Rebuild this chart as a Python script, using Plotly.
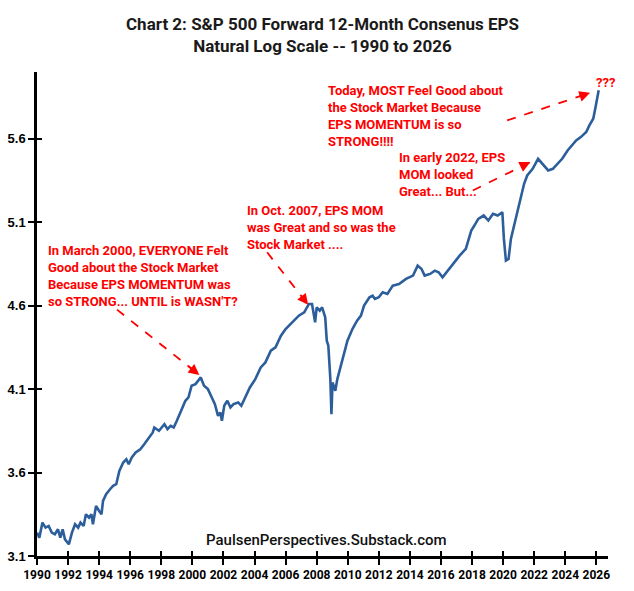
import plotly.graph_objects as go

years = [
    1990.00, 1990.15, 1990.35, 1990.55, 1990.75, 1990.95, 1991.15, 1991.35, 1991.50, 1991.65,
    1991.80, 1992.05, 1992.25, 1992.45, 1992.65, 1992.80, 1993.00, 1993.15, 1993.35, 1993.50,
    1993.60, 1993.80, 1994.00, 1994.15, 1994.25, 1994.45, 1994.70, 1994.90, 1995.10, 1995.30,
    1995.55, 1995.75, 1995.90, 1996.10, 1996.35, 1996.65, 1996.90, 1997.15, 1997.45, 1997.55,
    1997.85, 1998.20, 1998.40, 1998.60, 1998.80, 1999.00, 1999.25, 1999.55, 1999.75, 1999.95,
    2000.20, 2000.54, 2000.75, 2001.00, 2001.25, 2001.45, 2001.65, 2001.80, 2001.90, 2002.05,
    2002.25, 2002.45, 2002.65, 2002.95, 2003.15, 2003.40, 2003.70, 2004.05, 2004.40, 2004.70,
    2005.05, 2005.35, 2005.70, 2006.00, 2006.45, 2006.85, 2007.20, 2007.50, 2007.70, 2007.90,
    2008.00, 2008.20, 2008.35, 2008.55, 2008.65, 2008.75, 2008.88, 2008.95, 2009.02, 2009.20,
    2009.33, 2009.55, 2009.75, 2009.98, 2010.30, 2010.60, 2010.85, 2011.05, 2011.40, 2011.60,
    2011.75, 2012.00, 2012.25, 2012.55, 2012.90, 2013.30, 2013.75, 2014.20, 2014.50, 2014.75,
    2014.95, 2015.30, 2015.60, 2015.85, 2016.10, 2016.45, 2016.75, 2017.20, 2017.60, 2017.95,
    2018.15, 2018.40, 2018.75, 2019.05, 2019.35, 2019.65, 2019.95, 2020.05, 2020.18, 2020.35,
    2020.50, 2020.80, 2021.15, 2021.35, 2021.55, 2021.90, 2022.25, 2022.55, 2022.90, 2023.20,
    2023.50, 2023.80, 2024.15, 2024.45, 2024.70, 2025.00, 2025.35, 2025.55, 2025.80, 2025.95,
    2026.15,
]
ln_eps = [
    3.24, 3.21, 3.30, 3.27, 3.28, 3.24, 3.23, 3.26, 3.21, 3.26,
    3.20, 3.17, 3.24, 3.29, 3.27, 3.30, 3.28, 3.35, 3.33, 3.35,
    3.29, 3.40, 3.37, 3.35, 3.43, 3.47, 3.50, 3.52, 3.53, 3.61,
    3.66, 3.68, 3.65, 3.69, 3.72, 3.74, 3.77, 3.80, 3.84, 3.87,
    3.85, 3.89, 3.86, 3.88, 3.87, 3.91, 3.96, 4.03, 4.05, 4.12,
    4.13, 4.17, 4.12, 4.10, 4.05, 4.01, 3.94, 3.96, 3.91, 4.00,
    4.03, 3.99, 4.01, 4.02, 4.00, 4.05, 4.11, 4.16, 4.23, 4.26,
    4.33, 4.35, 4.42, 4.46, 4.50, 4.54, 4.56, 4.61, 4.61, 4.50,
    4.59, 4.57, 4.59, 4.53, 4.39, 4.36, 4.16, 3.95, 4.14, 4.09,
    4.16, 4.24, 4.32, 4.39, 4.46, 4.51, 4.54, 4.60, 4.65, 4.66,
    4.64, 4.65, 4.68, 4.67, 4.72, 4.73, 4.76, 4.78, 4.84, 4.82,
    4.78, 4.79, 4.81, 4.80, 4.77, 4.81, 4.85, 4.90, 4.94, 5.05,
    5.08, 5.12, 5.14, 5.11, 5.15, 5.14, 5.16, 5.00, 4.87, 4.88,
    5.00, 5.12, 5.26, 5.33, 5.38, 5.42, 5.48, 5.45, 5.41, 5.42,
    5.45, 5.48, 5.53, 5.56, 5.59, 5.61, 5.64, 5.68, 5.72, 5.79,
    5.89,
]
x_ticks = list(range(1990, 2027, 2))
y_ticks = [3.1, 3.6, 4.1, 4.6, 5.1, 5.6]

X_RANGE = [1990, 2026.75]
Y_RANGE = [3.1, 6.0]
RED = "#FF0000"
FONT = "Roboto, sans-serif"

fig = go.Figure()
fig.add_trace(go.Scatter(x=years, y=ln_eps, mode="lines",
                         line=dict(color="#2C5E9C", width=2.6), showlegend=False,
                         hoverinfo="skip"))
# invisible trace so the overlay axes (inside tick marks) are drawn
fig.add_trace(go.Scatter(x=[years[0]], y=[ln_eps[0]], xaxis="x2", yaxis="y2", mode="lines",
                         line=dict(width=0), showlegend=False, hoverinfo="skip"))

# annotation texts: (text, x, y) in data coords, top-left anchored
notes = [
    ("In March 2000, EVERYONE Felt<br>Good about the Stock Market<br>Because EPS MOMENTUM was<br>so STRONG... UNTIL is WASN'T?", 1990.6, 4.99),
    ("In Oct. 2007, EPS MOM<br>was Great and so was the<br>Stock Market ....", 2003.4, 5.225),
    ("Today, MOST Feel Good about<br>the Stock Market Because<br>EPS MOMENTUM is so<br>STRONG!!!!", 2008.6, 5.946),
    ("In early 2022, EPS<br>MOM looked<br>Great... But...", 2013.2, 5.545),
]
for t, x, y in notes:
    fig.add_annotation(text=t, x=x, y=y, xref="x", yref="y", xanchor="left", yanchor="top",
                       align="left", showarrow=False,
                       font=dict(family=FONT, size=13, color=RED, weight="bold"))

fig.add_annotation(text="???", x=2026.6, y=5.94, xref="x", yref="y", showarrow=False,
                   xanchor="center", yanchor="middle",
                   font=dict(family=FONT, size=13, color=RED, weight="bold"))

# dashed arrows: (x0, y0) -> (x1, y1)
arrows = [
    (1995.15, 4.576, 2000.45, 4.185),
    (2004.81, 4.92, 2007.45, 4.605),
    (2020.26, 5.71, 2025.60, 5.875),
    (2018.05, 5.29, 2021.75, 5.46),
]
for x0, y0, x1, y1 in arrows:
    fig.add_shape(type="line", x0=x0, y0=y0, x1=x1, y1=y1, xref="x", yref="y",
                  line=dict(color=RED, width=1.8, dash="dash"))
    fig.add_annotation(x=x1, y=y1, ax=x0 + (x1 - x0) * 0.85, ay=y0 + (y1 - y0) * 0.85,
                       xref="x", yref="y", axref="x", ayref="y", text="",
                       showarrow=True, arrowhead=2, arrowsize=1.2, arrowwidth=1.8,
                       arrowcolor=RED)

fig.add_annotation(text="PaulsenPerspectives.Substack.com", x=2008.6, y=3.196, xref="x", yref="y",
                   showarrow=False, xanchor="center", yanchor="middle",
                   font=dict(family="Roboto, sans-serif", size=15, color="#111111", weight=500))

# title as paper annotation (plot area: top at 72 px, height 484 px)
fig.add_annotation(text="Chart 2: S&P 500 Forward 12-Month Consenus EPS<br>Natural Log Scale -- 1990 to 2026",
                   x=0.5, y=1 + 60 / 484, xref="paper", yref="paper", xanchor="center", yanchor="top",
                   showarrow=False, align="center",
                   font=dict(family=FONT, size=17, color="#1A1A1A", weight="bold"))

fig.update_layout(
    width=634, height=591,
    paper_bgcolor="white", plot_bgcolor="white",
    margin=dict(l=37, r=26, t=72, b=35, autoexpand=False),
    xaxis=dict(range=X_RANGE, tickvals=x_ticks, ticktext=[str(v) for v in x_ticks],
               tickangle=0, automargin=False,
               showgrid=False, zeroline=False, showline=True, linecolor="black", linewidth=2.5,
               ticks="outside", ticklen=6, tickwidth=2, tickcolor="black",
               tickfont=dict(family="Roboto, Arial, sans-serif", size=12,
                             color="black", weight="bold")),
    yaxis=dict(range=Y_RANGE, tickvals=y_ticks, ticktext=[f"{v:.1f}" for v in y_ticks],
               automargin=False,
               showgrid=False, zeroline=False, showline=True, linecolor="black", linewidth=2.5,
               ticks="outside", ticklen=6, tickwidth=2, tickcolor="black",
               tickfont=dict(family="Liberation Sans, Arial, sans-serif", size=13,
                             color="black", weight="bold")),
    xaxis2=dict(overlaying="x", anchor="y2", side="bottom", range=X_RANGE, tickvals=x_ticks,
                showticklabels=False, showgrid=False, zeroline=False, showline=False,
                ticks="inside", ticklen=5, tickwidth=2, tickcolor="black"),
    yaxis2=dict(overlaying="y", anchor="x2", side="left", range=Y_RANGE, tickvals=y_ticks,
                showticklabels=False, showgrid=False, zeroline=False, showline=False,
                ticks="inside", ticklen=5, tickwidth=2, tickcolor="black"),
)

fig.write_html("out.html")
